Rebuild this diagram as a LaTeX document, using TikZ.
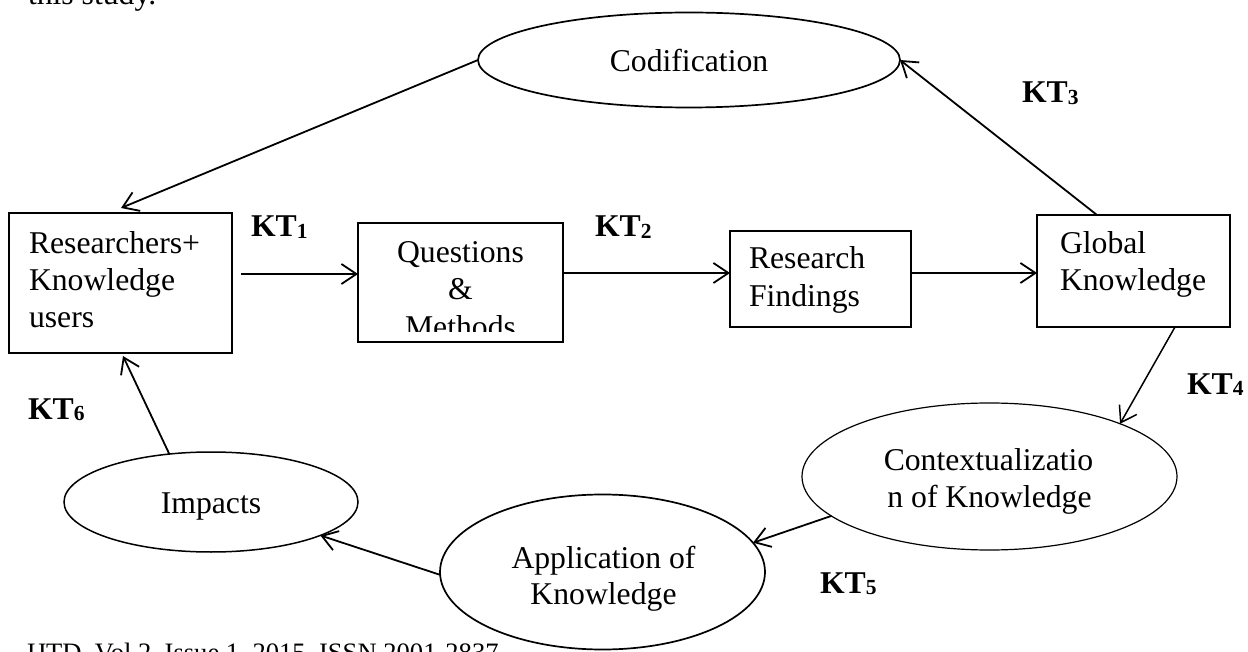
\documentclass[tikz,border=0pt]{standalone}
\usepackage{fontspec}
\setmainfont{Liberation Serif}
\usetikzlibrary{arrows.meta,shapes.geometric}
\newcommand\ktlab[1]{\textbf{KT}\raisebox{-1.5pt}{\fontsize{21.5}{21.5}\selectfont\bfseries #1}}
\begin{document}
\begin{tikzpicture}[x=1pt,y=-1pt,
  every node/.style={inner sep=0pt, outer sep=0pt},
  txt/.style={font=\fontsize{31.7}{38}\selectfont, anchor=base west},
  ctxt/.style={font=\fontsize{31.7}{38}\selectfont, anchor=base},
  boxshape/.style={draw, rectangle, line width=1.2pt},
  ell/.style={draw, ellipse, line width=1.7pt},
  arr/.style={-{Straight Barb[length=15pt,width=20pt]}, line width=1.8pt}]
\useasboundingbox (0,0) rectangle (1248,652);
\fill[white] (0,0) rectangle (1248,652);
\clip (0,0) rectangle (1248,652);

% page fragments
\node[txt] (prev) at (28,4.5) {this study.};
\node[font=\fontsize{26.6}{30}\selectfont, anchor=base west] (foot) at (27,661) {IJTD, Vol 2, Issue 1, 2015, ISSN 2001-2837};

% boxes
\node[boxshape, minimum width=223pt, minimum height=140pt] (rk) at (120.5,283) {};
\node[boxshape, minimum width=205pt, minimum height=119pt] (qm) at (460.5,282.5) {};
\node[boxshape, minimum width=181pt, minimum height=96pt] (rf) at (820.5,279) {};
\node[boxshape, minimum width=193pt, minimum height=112pt] (gk) at (1133.5,271) {};

% ellipses
\node[ell, minimum width=422pt, minimum height=95pt] (cod) at (689,60) {};
\node[ell, line width=1.2pt, minimum width=375pt, minimum height=147pt] (ctx) at (989.5,476.5) {};
\node[ell, minimum width=325pt, minimum height=155pt] (app) at (602.5,572) {};
\node[ell, line width=1.5pt, minimum width=294pt, minimum height=100pt] (imp) at (211,502) {};

% texts
\node[txt] (rk1) at (29,253.3) {Researchers+};
\node[txt] (rk2) at (29,290.7) {Knowledge};
\node[txt] (rk3) at (29,327.5) {users};
\begin{scope}
  \clip ([yshift=1pt]qm.north west) rectangle ([yshift=10pt]qm.south east);
  \node[ctxt] (qm1) at (460.5,262.5) {Questions};
  \node[ctxt] (qm2) at (460.5,300) {\&};
  \node[ctxt] (qm3) at (460.5,337.5) {Methods};
\end{scope}
\node[txt] (rf1) at (749,269) {Research};
\node[txt] (rf2) at (749,306.5) {Findings};
\node[txt] (gk1) at (1060,254) {Global};
\node[txt] (gk2) at (1060,290.5) {Knowledge};
\node[ctxt] (codt) at (689,71.5) {Codification};
\node[ctxt] (ctx1) at (988.5,470) {Contextualizatio};
\node[ctxt] (ctx2) at (989.5,507) {n of Knowledge};
\node[ctxt] (app1) at (603.5,568) {Application of};
\node[ctxt] (app2) at (603.5,604) {Knowledge};
\node[ctxt] (impt) at (211,513) {Impacts};

% KT labels
\node[txt] (kt1) at (251,237) {\ktlab{1}};
\node[txt] (kt2) at (595,237) {\ktlab{2}};
\node[txt] (kt3) at (1022,103) {\ktlab{3}};
\node[txt] (kt4) at (1187,394) {\ktlab{4}};
\node[txt] (kt5) at (820,593) {\ktlab{5}};
\node[txt] (kt6) at (28,419) {\ktlab{6}};

% connectors
\draw[arr] ([xshift=9pt,yshift=9pt]rk.east) -- ([yshift=8.5pt]qm.west);
\draw[arr] ([yshift=9.5pt]qm.east) -- ([yshift=6pt]rf.west);
\draw[arr] ([yshift=6pt]rf.east) -- ([yshift=-2pt]gk.west);
\draw[arr] ([xshift=-36.5pt]gk.north) -- (cod.east);
\draw[arr, line width=1.5pt] ([xshift=41.5pt]gk.south) -- (ctx.22);
\draw[arr] (ctx.194) -- (app.11);
\draw[arr] (app.181) -- (imp.343);
\draw[arr] (imp.131) -- ([xshift=2.5pt,yshift=-3pt]rk.south);
\draw[arr] (cod.west) -- ([xshift=0.5pt,yshift=5pt]rk.north);
\end{tikzpicture}
\end{document}
